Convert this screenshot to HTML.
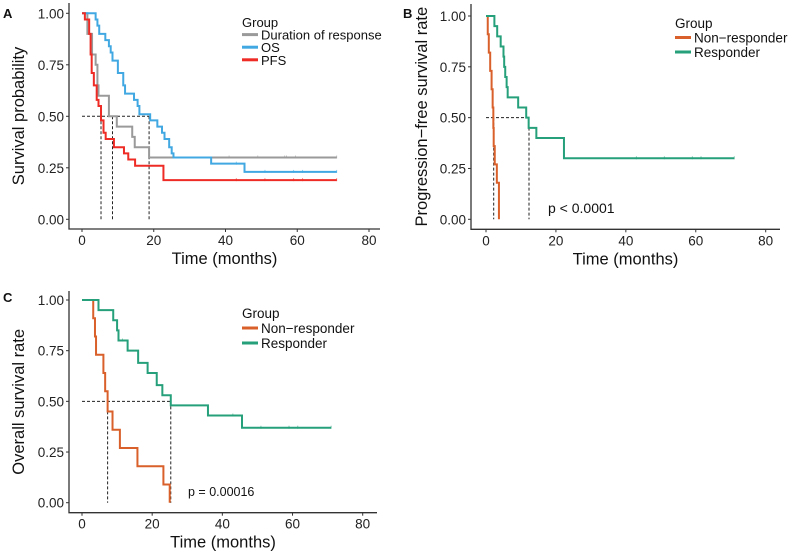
<!DOCTYPE html>
<html><head><meta charset="utf-8"><style>
body{margin:0;background:#fff;}
svg{display:block;font-family:"Liberation Sans",Arial,sans-serif;}
</style></head><body>
<svg id="fig" width="789" height="552" viewBox="0 0 789 552" xmlns="http://www.w3.org/2000/svg"></svg>
<script>
// Panel A data
const aDorT=[0,1.5,2.8,3.8,4.3,4.6,7.5,9.7,14,14.7,18.7];
const aDorS=[1,0.9,0.8,0.75,0.65,0.6,0.5,0.45,0.4,0.35,0.3];
const aDorC=[41,49,56.5,57,59.5,71];
const aOsT=[0,3.8,4.3,4.8,6.5,7.5,8,8.5,10,11.5,12,14.5,15.5,16,19,21,22.3,23,24.3,25,25.5,36,45.3];
const aOsS=[1,0.97,0.94,0.9,0.87,0.84,0.81,0.77,0.71,0.65,0.61,0.58,0.55,0.51,0.48,0.45,0.42,0.39,0.35,0.32,0.3,0.27,0.23];
const aOsC=[43,51,59,61.5,71];
const aPfsT=[0,0.8,2,2.4,2.7,3.3,4.1,4.6,5.3,6,6.6,8.9,11.7,12.9,14.8,22.7];
const aPfsS=[1,0.97,0.9,0.8,0.71,0.65,0.58,0.55,0.48,0.42,0.39,0.35,0.32,0.29,0.26,0.19];
const aPfsC=[43,51,59,61.5,71];
const aMedians=[5.3,8.5,18.7];
// Panel B data
const bNonT=[0,0.5,0.8,1.2,1.6,1.9,2.1,2.2,2.5,3.1,3.7];
const bNonS=[1,0.91,0.82,0.73,0.64,0.55,0.45,0.36,0.27,0.18,0];
const bResT=[0,2.4,3.2,4.2,5,5.2,5.5,5.9,6.2,9.2,11.5,12.2,14.4,22.3];
const bResS=[1,0.95,0.9,0.85,0.8,0.75,0.7,0.65,0.6,0.55,0.5,0.45,0.4,0.3];
const bResC=[43,51,59,61.5,71];
const bMedians=[2.2,12.3];
// Panel C data
const cNonT=[0,3.2,3.7,4,6.1,6.6,7.3,8.7,10.8,15.8,23.2,25];
const cNonS=[1,0.91,0.82,0.73,0.64,0.55,0.45,0.36,0.27,0.18,0.09,0];
const cResT=[0,4.7,8.9,10,10.4,13,16,18.7,21.3,22.9,25.3,35.9,45.6];
const cResS=[1,0.95,0.9,0.85,0.8,0.75,0.69,0.64,0.58,0.53,0.48,0.43,0.37];
const cResC=[11.5,43,51,59,61.5,71];
const cMedians=[7.3,25.3];
const xTicks=[0,20,40,60,80];
const yTicks=[0,0.25,0.5,0.75,1];
const yTickLabels=["0.00","0.25","0.50","0.75","1.00"];

const svg=document.getElementById('fig');
const NS="http://www.w3.org/2000/svg";
function el(tag,attrs,parent){const e=document.createElementNS(NS,tag);for(const k in attrs)e.setAttribute(k,attrs[k]);(parent||svg).appendChild(e);return e;}
function txt(s,attrs,parent){const e=el('text',attrs,parent);e.textContent=s;return e;}

function panel(cfg){
  const g=el('g',{});
  
  
  const X=t=>cfg.x0+t*(cfg.x80-cfg.x0)/80;
  const Y=s=>cfg.y0+s*(cfg.y1-cfg.y0);
  const ax=el('path',{d:`M${cfg.axL} ${cfg.axT} V${cfg.axB} H${cfg.axR}`,stroke:'#333',fill:'none','stroke-width':1.3},g);
  
  
  xTicks.forEach(v=>{
    el('line',{x1:X(v),x2:X(v),y1:cfg.axB,y2:cfg.axB+3,stroke:'#333'},g);
    const t=txt(String(v),{x:X(v),y:cfg.axB+16,'text-anchor':'middle','font-size':13.5,fill:'#222'},g);
    
    
  });
  yTicks.forEach((v,i)=>{
    el('line',{x1:cfg.axL-3,x2:cfg.axL,y1:Y(v),y2:Y(v),stroke:'#333'},g);
    const t=txt(yTickLabels[i],{x:cfg.axL-5,y:Y(v)+5,'text-anchor':'end','font-size':13.5,fill:'#222'},g);
    
    
  });
  const xt=txt('Time (months)',{x:(cfg.axL+cfg.axR)/2,y:cfg.axB+35,'text-anchor':'middle','font-size':16.5,fill:'#111'},g);
  
  
  const cy=(cfg.axT+cfg.axB)/2;
  const yt=txt(cfg.ylab,{x:cfg.ylx,y:cy,'text-anchor':'middle','font-size':16.5,fill:'#111',transform:`rotate(-90 ${cfg.ylx} ${cy})`},g);
  
  
  const pl=txt(cfg.letter,{x:cfg.lx,y:cfg.ly,'font-size':13,'font-weight':'bold',fill:'#111'},g);
  
  
  const mx=Math.max(...cfg.medians);
  let d=`M${X(0)} ${Y(0.5)} H${X(mx)}`;
  cfg.medians.forEach(m=>{d+=` M${X(m)} ${Y(0.5)} V${Y(0)}`;});
  const md=el('path',{d:d,stroke:'#222',fill:'none','stroke-dasharray':'3,2','stroke-width':1},g);
  
  
  cfg.series.forEach(s=>{
    let p=`M${X(s.t[0])} ${Y(s.s[0])}`;
    for(let i=1;i<s.t.length;i++){p+=` H${X(s.t[i])} V${Y(s.s[i])}`;}
    if(s.end!==undefined)p+=` H${X(s.end)}`;
    const c=el('path',{d:p,stroke:s.color,fill:'none','stroke-width':2},g);
    
    
    (s.c||[]).forEach(ct=>{
      let v=s.s[0];for(let i=0;i<s.t.length;i++){if(s.t[i]<=ct)v=s.s[i];}
      const m=el('line',{x1:X(ct),x2:X(ct),y1:Y(v)-2,y2:Y(v)+1,stroke:s.color,'stroke-width':0.8,opacity:0.7},g);
      
      
    });
  });
  const lg=el('g',{},g);
  
  
  txt('Group',{x:cfg.legX,y:cfg.legY,'font-size':cfg.lfs,fill:'#111'},lg);
  cfg.series.forEach((s,i)=>{
    const yy=cfg.legY+cfg.legDy*(i+1);
    const e=el('g',{},lg);
    
    
    el('line',{x1:cfg.legX,x2:cfg.legX+16,y1:yy-5,y2:yy-5,stroke:s.color,'stroke-width':3},e);
    txt(s.label,{x:cfg.legX+19,y:yy,'font-size':cfg.lfs,fill:'#111'},e);
  });
  if(cfg.p){
    const pt=txt(cfg.p,{x:cfg.px,y:cfg.py,'font-size':cfg.pfs,fill:'#111'},g);
    
    
  }
}

panel({name:'panel-a',letter:'A',lx:3,ly:18,x0:82,x80:369,y0:219.3,y1:13.3,axL:69,axT:3,axB:229,axR:380,ylab:'Survival probability',ylx:24,
  medians:aMedians,legX:242,legY:27,legDy:12.6,lfs:13,
  series:[{key:'duration',label:'Duration of response',color:'#9a9a9a',t:aDorT,s:aDorS,end:71,c:aDorC},
          {key:'os',label:'OS',color:'#41a8e2',t:aOsT,s:aOsS,end:71,c:aOsC},
          {key:'pfs',label:'PFS',color:'#ee2b25',t:aPfsT,s:aPfsS,end:71,c:aPfsC}]});
panel({name:'panel-b',letter:'B',lx:403,ly:18,x0:486,x80:765.7,y0:219.3,y1:16,axL:471,axT:4,axB:229.3,axR:780,ylab:'Progression−free survival rate',ylx:427,
  medians:bMedians,legX:675,legY:28,legDy:14.5,lfs:13.5,p:'p < 0.0001',px:548,py:213,pfs:14,
  series:[{key:'non-responder',label:'Non−responder',color:'#d9602a',t:bNonT,s:bNonS},
          {key:'responder',label:'Responder',color:'#25a07a',t:bResT,s:bResS,end:71,c:bResC}]});
panel({name:'panel-c',letter:'C',lx:3,ly:302,x0:82,x80:362.7,y0:502.7,y1:300,axL:69,axT:291,axB:512.7,axR:377,ylab:'Overall survival rate',ylx:24,
  medians:cMedians,legX:242,legY:318,legDy:15,lfs:13.5,p:'p = 0.00016',px:188,py:496,pfs:12.5,
  series:[{key:'non-responder',label:'Non−responder',color:'#d9602a',t:cNonT,s:cNonS},
          {key:'responder',label:'Responder',color:'#25a07a',t:cResT,s:cResS,end:71,c:cResC}]});
</script>
</body></html>
